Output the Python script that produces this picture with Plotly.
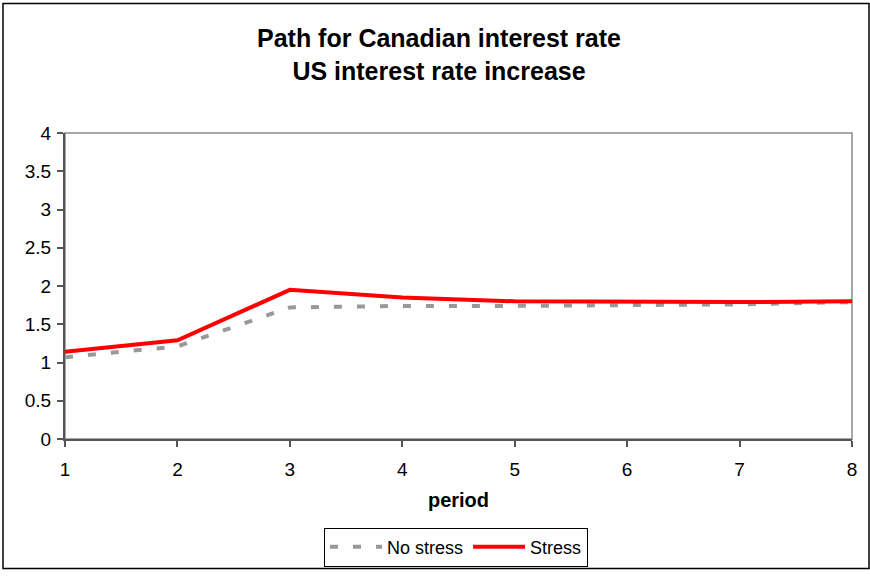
import plotly.graph_objects as go

# Simulated path of the Canadian policy rate after a US rate increase
period = [1, 2, 3, 4, 5, 6, 7, 8]
no_stress = [1.07, 1.21, 1.72, 1.74, 1.74, 1.75, 1.76, 1.79]
stress = [1.14, 1.29, 1.95, 1.85, 1.80, 1.79, 1.79, 1.80]

y_ticks = [0, 0.5, 1, 1.5, 2, 2.5, 3, 3.5, 4]
y_tick_text = ["0", "0.5", "1", "1.5", "2", "2.5", "3", "3.5", "4"]

W, H = 870, 578
ML, MR, MT, MB = 65, 18, 133, 133
PW = W - ML - MR
PH = H - MT - MB

FONT = "Liberation Sans, Arial, sans-serif"

fig = go.Figure()
fig.add_trace(go.Scatter(
    x=period, y=no_stress, mode="lines", name="No stress",
    line=dict(color="#999999", width=4, dash="8px,15px"),
))
fig.add_trace(go.Scatter(
    x=period, y=stress, mode="lines", name="Stress",
    line=dict(color="#ff0000", width=4),
))

# grey frame around the plotting area
fig.add_shape(type="rect", xref="paper", yref="paper", x0=0, x1=1, y0=0, y1=1,
              line=dict(color="#8a8a8a", width=1.5), layer="below")
# outer chart border
fig.add_shape(type="rect", xref="paper", yref="paper",
              x0=(3 - ML) / PW, x1=(869 - ML) / PW,
              y0=(H - 577 - MB) / PH, y1=(H - 1 - MB) / PH,
              line=dict(color="#000000", width=1.5))

fig.add_annotation(
    text="<b>Path for Canadian interest rate<br>US interest rate increase</b>",
    xref="paper", yref="paper", x=(439 - ML) / PW, y=(H - 20 - MB) / PH,
    xanchor="center", yanchor="top", showarrow=False,
    font=dict(family=FONT, size=25, color="#000000"),
)

fig.update_layout(
    width=W, height=H,
    margin=dict(l=ML, r=MR, t=MT, b=MB),
    paper_bgcolor="#ffffff", plot_bgcolor="#ffffff",
    font=dict(family=FONT, size=19, color="#000000"),
    showlegend=True,
    legend=dict(
        orientation="h", x=(456 - ML) / PW, xanchor="center",
        y=(H - 575 - MB) / PH, yanchor="bottom",
        bordercolor="#000000", borderwidth=1, bgcolor="#ffffff",
        font=dict(family=FONT, size=18, color="#000000"),
        itemwidth=52, tracegroupgap=0,
    ),
    xaxis=dict(
        range=[1, 8], tickvals=period, ticktext=[str(p) for p in period],
        showgrid=False, zeroline=False,
        showline=True, linecolor="#555555", linewidth=2,
        ticks="outside", ticklen=6, tickcolor="#555555", tickwidth=2,
        tickfont=dict(family=FONT, size=19), ticklabelstandoff=6,
        title=dict(text="<b>period</b>", font=dict(family=FONT, size=20), standoff=14),
    ),
    yaxis=dict(
        range=[0, 4], tickvals=y_ticks, ticktext=y_tick_text,
        showgrid=False, zeroline=False,
        showline=True, linecolor="#555555", linewidth=2,
        ticks="outside", ticklen=6, tickcolor="#555555", tickwidth=2,
        tickfont=dict(family=FONT, size=19), ticklabelstandoff=2,
    ),
)

fig.write_html("out.html")
